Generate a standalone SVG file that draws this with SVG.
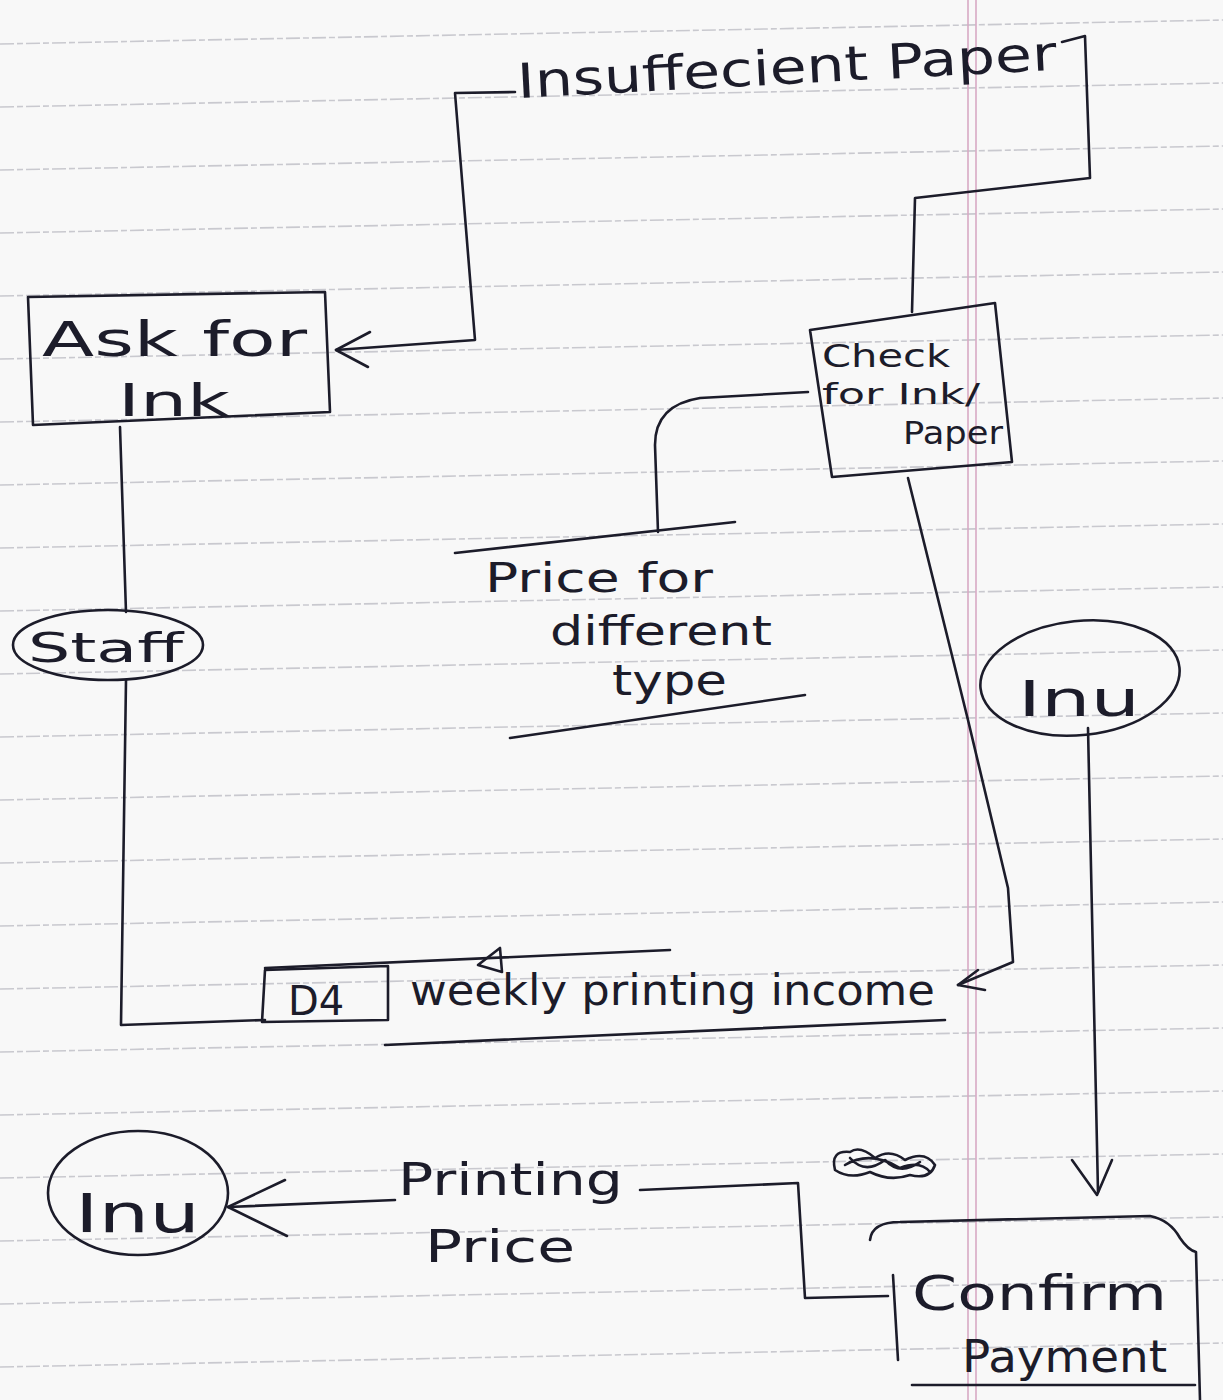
<svg xmlns="http://www.w3.org/2000/svg" width="1223" height="1400" viewBox="0 0 1223 1400">
<defs>
<style>
.ink{fill:none;stroke:#1c1c2a;stroke-width:2.6;stroke-linecap:round;stroke-linejoin:round}
.txt{font-family:"DejaVu Sans","Liberation Sans",sans-serif;fill:#1c1c2a;font-weight:normal}
.rule{stroke:#c9c9cf;stroke-width:1.6;stroke-dasharray:14 3 6 3}
.margin{stroke:#d7a9c4;stroke-width:1.6}
</style>
</defs>
<rect width="1223" height="1400" fill="#f8f8f8"/>
<g id="paper">
<line class="rule" x1="0" y1="44" x2="1223" y2="20"/>
<line class="rule" x1="0" y1="107" x2="1223" y2="83"/>
<line class="rule" x1="0" y1="170" x2="1223" y2="146"/>
<line class="rule" x1="0" y1="233" x2="1223" y2="209"/>
<line class="rule" x1="0" y1="296" x2="1223" y2="272"/>
<line class="rule" x1="0" y1="359" x2="1223" y2="335"/>
<line class="rule" x1="0" y1="422" x2="1223" y2="398"/>
<line class="rule" x1="0" y1="485" x2="1223" y2="461"/>
<line class="rule" x1="0" y1="548" x2="1223" y2="524"/>
<line class="rule" x1="0" y1="611" x2="1223" y2="587"/>
<line class="rule" x1="0" y1="674" x2="1223" y2="650"/>
<line class="rule" x1="0" y1="737" x2="1223" y2="713"/>
<line class="rule" x1="0" y1="800" x2="1223" y2="776"/>
<line class="rule" x1="0" y1="863" x2="1223" y2="839"/>
<line class="rule" x1="0" y1="926" x2="1223" y2="902"/>
<line class="rule" x1="0" y1="989" x2="1223" y2="965"/>
<line class="rule" x1="0" y1="1052" x2="1223" y2="1028"/>
<line class="rule" x1="0" y1="1115" x2="1223" y2="1091"/>
<line class="rule" x1="0" y1="1178" x2="1223" y2="1154"/>
<line class="rule" x1="0" y1="1241" x2="1223" y2="1217"/>
<line class="rule" x1="0" y1="1304" x2="1223" y2="1280"/>
<line class="rule" x1="0" y1="1367" x2="1223" y2="1343"/>
<line class="margin" x1="968" y1="0" x2="968" y2="1400"/>
<line class="margin" x1="976" y1="0" x2="976" y2="1400"/>
</g>
<g id="connectors">
<path class="ink" d="M1062 42 L1085 36 L1090 178 L915 198 L912 312"/>
<path class="ink" d="M515 92 L455 93 L475 340 L336 350"/>
<path class="ink" d="M370 332 L336 350 L368 367"/>
<path class="ink" d="M808 392 L700 398 Q655 405 655 445 L658 532"/>
<path class="ink" d="M908 478 L968 720 L1008 888 L1013 962 L958 985"/>
<path class="ink" d="M978 970 L958 985 L985 990"/>
<path class="ink" d="M120 427 L126 612"/>
<path class="ink" d="M126 680 L121 1025 L265 1020"/>
<path class="ink" d="M1088 728 L1098 1192"/>
<path class="ink" d="M1072 1160 L1097 1195 L1112 1160"/>
<path class="ink" d="M888 1296 L805 1298 L798 1183 L640 1190"/>
<path class="ink" d="M395 1200 L228 1207"/>
<path class="ink" d="M285 1180 L228 1207 L287 1236"/>
<path class="ink" d="M478 965 L500 948 L502 972 Z"/>
</g>
<g id="insufficient-paper">
<text class="txt" x="518" y="98" font-size="48" textLength="540" lengthAdjust="spacingAndGlyphs" transform="rotate(-3 518 98)">Insuffecient Paper</text>
</g>
<g id="ask-for-ink">
<path class="ink" d="M28 297 L325 292 L330 412 L33 425 Z"/>
<text class="txt" x="42" y="356" font-size="48" textLength="265" lengthAdjust="spacingAndGlyphs">Ask  for</text>
<text class="txt" x="118" y="416" font-size="44" textLength="112" lengthAdjust="spacingAndGlyphs">Ink</text>
</g>
<g id="check-for-ink-paper">
<path class="ink" d="M810 330 L995 303 L1012 462 L832 477 Z"/>
<text class="txt" x="822" y="367" font-size="32" textLength="128" lengthAdjust="spacingAndGlyphs">Check</text>
<text class="txt" x="822" y="404" font-size="28" textLength="158" lengthAdjust="spacingAndGlyphs">for Ink/</text>
<text class="txt" x="903" y="444" font-size="32" textLength="100" lengthAdjust="spacingAndGlyphs">Paper</text>
</g>
<g id="price-store">
<path class="ink" d="M455 553 L735 522"/>
<path class="ink" d="M510 738 L805 695"/>
<text class="txt" x="485" y="592" font-size="40" textLength="228" lengthAdjust="spacingAndGlyphs">Price for</text>
<text class="txt" x="550" y="645" font-size="40" textLength="222" lengthAdjust="spacingAndGlyphs">different</text>
<text class="txt" x="612" y="695" font-size="42" textLength="115" lengthAdjust="spacingAndGlyphs">type</text>
</g>
<g id="staff">
<ellipse class="ink" cx="108" cy="645" rx="95" ry="35"/>
<text class="txt" x="28" y="662" font-size="40" textLength="155" lengthAdjust="spacingAndGlyphs">Staff</text>
</g>
<g id="inu-right">
<ellipse class="ink" cx="1080" cy="678" rx="100" ry="57" transform="rotate(-6 1080 678)"/>
<text class="txt" x="1018" y="716" font-size="50" textLength="122" lengthAdjust="spacingAndGlyphs">Inu</text>
</g>
<g id="d4-store">
<path class="ink" d="M265 968 L670 950"/>
<path class="ink" d="M265 970 L388 966 L388 1020 L262 1022 Z"/>
<path class="ink" d="M385 1045 L945 1020"/>
<text class="txt" x="288" y="1015" font-size="40">D4</text>
<text class="txt" x="410" y="1005" font-size="42" textLength="525" lengthAdjust="spacingAndGlyphs">weekly printing income</text>
</g>
<g id="inu-left">
<ellipse class="ink" cx="138" cy="1193" rx="90" ry="62"/>
<text class="txt" x="75" y="1232" font-size="54" textLength="125" lengthAdjust="spacingAndGlyphs">Inu</text>
</g>
<g id="printing-price">
<text class="txt" x="398" y="1195" font-size="44" textLength="225" lengthAdjust="spacingAndGlyphs">Printing</text>
<text class="txt" x="425" y="1262" font-size="44" textLength="150" lengthAdjust="spacingAndGlyphs">Price</text>
</g>
<g id="scribble">
<path class="ink" d="M835 1170 Q830 1150 850 1152 Q860 1145 875 1158 Q890 1148 905 1160 Q925 1150 935 1165 Q930 1180 910 1175 Q890 1182 870 1172 Q850 1180 835 1170 M845 1165 Q870 1150 900 1168 Q920 1160 930 1172 M850 1158 Q865 1175 885 1160 Q900 1176 920 1162"/>
</g>
<g id="confirm-payment">
<path class="ink" d="M870 1240 Q872 1222 900 1222 L1150 1216 Q1170 1220 1180 1238 Q1188 1250 1196 1252 L1200 1400"/>
<path class="ink" d="M893 1275 L898 1360"/>
<path class="ink" d="M912 1385 L1195 1385"/>
<text class="txt" x="912" y="1310" font-size="48" textLength="255" lengthAdjust="spacingAndGlyphs">Confirm</text>
<text class="txt" x="962" y="1372" font-size="44" textLength="205" lengthAdjust="spacingAndGlyphs">Payment</text>
</g>
</svg>
